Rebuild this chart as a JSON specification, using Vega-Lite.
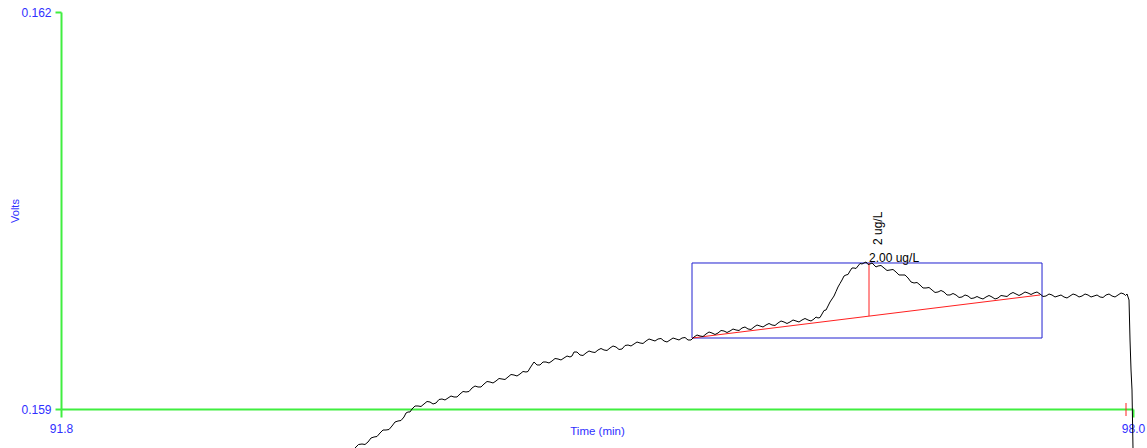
{
  "$schema": "https://vega.github.io/schema/vega-lite/v6.json",
  "autosize": {"type": "none"},
  "width": 1072,
  "height": 397,
  "padding": {"left": 61, "top": 12, "right": 14, "bottom": 39},
  "background": "white",
  "config": {
    "view": {"stroke": null},
    "font": "Liberation Sans",
    "axis": {"grid": false, "labelFont": "Liberation Sans", "titleFont": "Liberation Sans", "titleFontWeight": "normal", "domainColor": "#40ee40", "domainWidth": 2, "tickColor": "#40ee40", "tickWidth": 2, "labelFlush": false}
  },
  "datasets": {
    "trace": [
      {"t": 93.5004, "v": 0.1587053}, {"t": 93.5207, "v": 0.1587317}, {"t": 93.5409, "v": 0.1587355}, {"t": 93.5583, "v": 0.1587318},
      {"t": 93.5756, "v": 0.1587506}, {"t": 93.593, "v": 0.1587808}, {"t": 93.6103, "v": 0.1587884}, {"t": 93.6277, "v": 0.1587922},
      {"t": 93.645, "v": 0.1588186}, {"t": 93.6624, "v": 0.1588413}, {"t": 93.6797, "v": 0.1588413}, {"t": 93.6971, "v": 0.1588451},
      {"t": 93.7144, "v": 0.1588715}, {"t": 93.7318, "v": 0.1589017}, {"t": 93.7491, "v": 0.1589093}, {"t": 93.7665, "v": 0.1589131},
      {"t": 93.7838, "v": 0.1589395}, {"t": 93.7954, "v": 0.1589697}, {"t": 93.8069, "v": 0.1589773}, {"t": 93.8185, "v": 0.1589774},
      {"t": 93.8301, "v": 0.159}, {"t": 93.8475, "v": 0.1590227}, {"t": 93.8648, "v": 0.1590227}, {"t": 93.8822, "v": 0.159019},
      {"t": 93.8995, "v": 0.1590378}, {"t": 93.9169, "v": 0.1590567}, {"t": 93.9342, "v": 0.1590529}, {"t": 93.9516, "v": 0.1590378},
      {"t": 93.9689, "v": 0.1590453}, {"t": 93.9863, "v": 0.1590718}, {"t": 94.0036, "v": 0.1590756}, {"t": 94.021, "v": 0.1590681},
      {"t": 94.0383, "v": 0.1590831}, {"t": 94.0557, "v": 0.1590982}, {"t": 94.073, "v": 0.1590907}, {"t": 94.0904, "v": 0.1590908},
      {"t": 94.1077, "v": 0.1591134}, {"t": 94.1251, "v": 0.1591323}, {"t": 94.1424, "v": 0.1591285}, {"t": 94.1598, "v": 0.1591323},
      {"t": 94.1771, "v": 0.1591587}, {"t": 94.1945, "v": 0.1591738}, {"t": 94.2118, "v": 0.1591663}, {"t": 94.2292, "v": 0.1591663},
      {"t": 94.2465, "v": 0.1591889}, {"t": 94.2639, "v": 0.1592078}, {"t": 94.2812, "v": 0.159204}, {"t": 94.2986, "v": 0.1591965},
      {"t": 94.3159, "v": 0.1592116}, {"t": 94.3333, "v": 0.1592305}, {"t": 94.3506, "v": 0.1592267}, {"t": 94.368, "v": 0.159223},
      {"t": 94.3853, "v": 0.1592418}, {"t": 94.4027, "v": 0.1592607}, {"t": 94.42, "v": 0.1592569}, {"t": 94.4374, "v": 0.1592494},
      {"t": 94.4547, "v": 0.1592645}, {"t": 94.4721, "v": 0.1592834}, {"t": 94.4894, "v": 0.1592796}, {"t": 94.501, "v": 0.1592834},
      {"t": 94.5126, "v": 0.1593098}, {"t": 94.5242, "v": 0.1593325}, {"t": 94.5357, "v": 0.1593552}, {"t": 94.5531, "v": 0.1593326},
      {"t": 94.5704, "v": 0.1593325}, {"t": 94.5878, "v": 0.1593552}, {"t": 94.6051, "v": 0.1593552}, {"t": 94.6225, "v": 0.1593477},
      {"t": 94.6398, "v": 0.1593627}, {"t": 94.6572, "v": 0.1593816}, {"t": 94.6745, "v": 0.1593779}, {"t": 94.6919, "v": 0.1593704},
      {"t": 94.7092, "v": 0.1593854}, {"t": 94.7266, "v": 0.1594005}, {"t": 94.7439, "v": 0.159393}, {"t": 94.7555, "v": 0.1594006},
      {"t": 94.767, "v": 0.1594307}, {"t": 94.7844, "v": 0.1594307}, {"t": 94.8017, "v": 0.1594081}, {"t": 94.8191, "v": 0.1594044},
      {"t": 94.8364, "v": 0.1594232}, {"t": 94.8538, "v": 0.1594383}, {"t": 94.8711, "v": 0.1594307}, {"t": 94.8885, "v": 0.159427},
      {"t": 94.9058, "v": 0.1594459}, {"t": 94.9232, "v": 0.1594572}, {"t": 94.9405, "v": 0.1594459}, {"t": 94.9579, "v": 0.1594422},
      {"t": 94.9752, "v": 0.159461}, {"t": 94.9926, "v": 0.1594761}, {"t": 95.01, "v": 0.1594685}, {"t": 95.0274, "v": 0.1594497},
      {"t": 95.0447, "v": 0.1594534}, {"t": 95.0621, "v": 0.1594798}, {"t": 95.0794, "v": 0.1594836}, {"t": 95.0968, "v": 0.1594761},
      {"t": 95.1141, "v": 0.1594912}, {"t": 95.1315, "v": 0.1595063}, {"t": 95.1488, "v": 0.1594988}, {"t": 95.1662, "v": 0.1594951},
      {"t": 95.1835, "v": 0.1595139}, {"t": 95.2009, "v": 0.159529}, {"t": 95.2182, "v": 0.1595214}, {"t": 95.2356, "v": 0.1595139},
      {"t": 95.2529, "v": 0.159529}, {"t": 95.2703, "v": 0.1595328}, {"t": 95.2876, "v": 0.1595139}, {"t": 95.305, "v": 0.1595064},
      {"t": 95.3223, "v": 0.1595214}, {"t": 95.3397, "v": 0.1595365}, {"t": 95.357, "v": 0.159529}, {"t": 95.3744, "v": 0.1595215},
      {"t": 95.3917, "v": 0.1595365}, {"t": 95.4091, "v": 0.1595403}, {"t": 95.4264, "v": 0.1595214}, {"t": 95.4438, "v": 0.1595215},
      {"t": 95.4611, "v": 0.1595441}, {"t": 95.4785, "v": 0.1595592}, {"t": 95.4958, "v": 0.1595517}, {"t": 95.5132, "v": 0.159548},
      {"t": 95.5305, "v": 0.1595668}, {"t": 95.5479, "v": 0.1595819}, {"t": 95.5652, "v": 0.1595743}, {"t": 95.5826, "v": 0.159563},
      {"t": 95.5999, "v": 0.1595743}, {"t": 95.6173, "v": 0.1595932}, {"t": 95.6346, "v": 0.1595894}, {"t": 95.652, "v": 0.1595781},
      {"t": 95.6693, "v": 0.1595894}, {"t": 95.6867, "v": 0.1596045}, {"t": 95.704, "v": 0.159597}, {"t": 95.7214, "v": 0.1595933},
      {"t": 95.7387, "v": 0.1596121}, {"t": 95.7561, "v": 0.1596197}, {"t": 95.7734, "v": 0.1596046}, {"t": 95.7908, "v": 0.1596009},
      {"t": 95.8081, "v": 0.1596197}, {"t": 95.8255, "v": 0.1596348}, {"t": 95.8428, "v": 0.1596272}, {"t": 95.8602, "v": 0.1596197},
      {"t": 95.8775, "v": 0.1596348}, {"t": 95.8949, "v": 0.1596461}, {"t": 95.9122, "v": 0.1596348}, {"t": 95.9296, "v": 0.1596311},
      {"t": 95.9469, "v": 0.1596499}, {"t": 95.9643, "v": 0.159665}, {"t": 95.9816, "v": 0.1596575}, {"t": 95.999, "v": 0.1596462},
      {"t": 96.0163, "v": 0.1596575}, {"t": 96.0337, "v": 0.1596726}, {"t": 96.051, "v": 0.159665}, {"t": 96.0684, "v": 0.1596575},
      {"t": 96.0857, "v": 0.1596726}, {"t": 96.1031, "v": 0.1596839}, {"t": 96.1204, "v": 0.1596726}, {"t": 96.1378, "v": 0.1596651},
      {"t": 96.1551, "v": 0.1596801}, {"t": 96.1667, "v": 0.1596952}, {"t": 96.1783, "v": 0.1596877}, {"t": 96.1899, "v": 0.1596915},
      {"t": 96.2014, "v": 0.1597179}, {"t": 96.213, "v": 0.1597443}, {"t": 96.2245, "v": 0.1597481}, {"t": 96.2361, "v": 0.1597784},
      {"t": 96.2477, "v": 0.1598086}, {"t": 96.2593, "v": 0.1598313}, {"t": 96.2708, "v": 0.1598539}, {"t": 96.2824, "v": 0.159888},
      {"t": 96.2939, "v": 0.159922}, {"t": 96.3055, "v": 0.1599485}, {"t": 96.3171, "v": 0.1599749}, {"t": 96.3287, "v": 0.1600051},
      {"t": 96.3402, "v": 0.1600126}, {"t": 96.3518, "v": 0.1600165}, {"t": 96.3633, "v": 0.1600429}, {"t": 96.3749, "v": 0.1600655},
      {"t": 96.3865, "v": 0.1600655}, {"t": 96.3981, "v": 0.1600618}, {"t": 96.4096, "v": 0.1600807}, {"t": 96.4212, "v": 0.1600996},
      {"t": 96.4327, "v": 0.1600958}, {"t": 96.4443, "v": 0.1601034}, {"t": 96.4559, "v": 0.1601109}, {"t": 96.4675, "v": 0.1600921},
      {"t": 96.479, "v": 0.1600958}, {"t": 96.4906, "v": 0.1601033}, {"t": 96.5021, "v": 0.1600882}, {"t": 96.5137, "v": 0.1600732},
      {"t": 96.5253, "v": 0.1600807}, {"t": 96.5427, "v": 0.1600844}, {"t": 96.56, "v": 0.1600655}, {"t": 96.5774, "v": 0.1600467},
      {"t": 96.5947, "v": 0.1600504}, {"t": 96.6121, "v": 0.1600542}, {"t": 96.6294, "v": 0.1600353}, {"t": 96.6468, "v": 0.1600127},
      {"t": 96.6641, "v": 0.1600126}, {"t": 96.6815, "v": 0.1600126}, {"t": 96.6988, "v": 0.15999}, {"t": 96.7162, "v": 0.1599598},
      {"t": 96.7335, "v": 0.1599522}, {"t": 96.7509, "v": 0.159956}, {"t": 96.7682, "v": 0.1599371}, {"t": 96.7856, "v": 0.1599145},
      {"t": 96.8029, "v": 0.1599144}, {"t": 96.8203, "v": 0.1599182}, {"t": 96.8376, "v": 0.1598993}, {"t": 96.855, "v": 0.1598805},
      {"t": 96.8723, "v": 0.1598842}, {"t": 96.8897, "v": 0.1598955}, {"t": 96.907, "v": 0.1598842}, {"t": 96.9244, "v": 0.1598616},
      {"t": 96.9417, "v": 0.1598615}, {"t": 96.9591, "v": 0.1598728}, {"t": 96.9764, "v": 0.1598615}, {"t": 96.9938, "v": 0.1598427},
      {"t": 97.0111, "v": 0.1598464}, {"t": 97.0285, "v": 0.1598615}, {"t": 97.0458, "v": 0.1598539}, {"t": 97.0632, "v": 0.1598351},
      {"t": 97.0805, "v": 0.1598388}, {"t": 97.0979, "v": 0.1598501}, {"t": 97.1152, "v": 0.1598388}, {"t": 97.1326, "v": 0.1598313},
      {"t": 97.1499, "v": 0.1598464}, {"t": 97.1673, "v": 0.1598577}, {"t": 97.1846, "v": 0.1598464}, {"t": 97.202, "v": 0.1598313},
      {"t": 97.2193, "v": 0.1598388}, {"t": 97.2367, "v": 0.1598577}, {"t": 97.254, "v": 0.1598539}, {"t": 97.2714, "v": 0.1598502},
      {"t": 97.2887, "v": 0.1598691}, {"t": 97.3061, "v": 0.1598804}, {"t": 97.3234, "v": 0.1598691}, {"t": 97.3408, "v": 0.1598578},
      {"t": 97.3581, "v": 0.1598691}, {"t": 97.3755, "v": 0.1598842}, {"t": 97.3928, "v": 0.1598766}, {"t": 97.4102, "v": 0.1598653},
      {"t": 97.4275, "v": 0.1598766}, {"t": 97.4449, "v": 0.1598842}, {"t": 97.4622, "v": 0.1598691}, {"t": 97.4796, "v": 0.1598502},
      {"t": 97.4969, "v": 0.1598539}, {"t": 97.5143, "v": 0.159869}, {"t": 97.5316, "v": 0.1598615}, {"t": 97.549, "v": 0.1598464},
      {"t": 97.5663, "v": 0.1598539}, {"t": 97.5837, "v": 0.1598615}, {"t": 97.601, "v": 0.1598464}, {"t": 97.6184, "v": 0.1598389},
      {"t": 97.6357, "v": 0.1598539}, {"t": 97.6531, "v": 0.159869}, {"t": 97.6704, "v": 0.1598615}, {"t": 97.6878, "v": 0.1598464},
      {"t": 97.7052, "v": 0.1598539}, {"t": 97.7226, "v": 0.159869}, {"t": 97.7399, "v": 0.1598615}, {"t": 97.7573, "v": 0.1598464},
      {"t": 97.7746, "v": 0.1598539}, {"t": 97.792, "v": 0.1598615}, {"t": 97.8093, "v": 0.1598464}, {"t": 97.8267, "v": 0.1598427},
      {"t": 97.844, "v": 0.1598615}, {"t": 97.8614, "v": 0.159869}, {"t": 97.8787, "v": 0.1598539}, {"t": 97.8961, "v": 0.1598464},
      {"t": 97.9134, "v": 0.1598615}, {"t": 97.9308, "v": 0.1598766}, {"t": 97.9481, "v": 0.1598691}, {"t": 97.9568, "v": 0.1598578},
      {"t": 97.9654, "v": 0.1598691}, {"t": 97.977, "v": 0.1598237}, {"t": 97.9828, "v": 0.1595214}, {"t": 97.9886, "v": 0.1592947},
      {"t": 97.9943, "v": 0.1591436}, {"t": 98.0001, "v": 0.1586902}
    ],
    "box": [{"t": 95.4495, "t2": 97.4738, "v": 0.1595365, "v2": 0.1601033}],
    "baseline": [{"t": 95.4495, "t2": 97.4622, "v": 0.1595365, "v2": 0.1598615}],
    "peakline": [{"t": 96.4732, "v": 0.1597028, "v2": 0.1601033}],
    "endtick": [{"t": 97.9596, "v": 0.1589471, "v2": 0.1590453}],
    "amount": [{"t": 96.4732, "v": 0.1601126, "label": "2.00 ug/L"}],
    "name": [{"t": 96.5253, "v": 0.1602393, "label": "2 ug/L"}]
  },
  "encoding": {
    "x": {
      "field": "t", "type": "quantitative",
      "scale": {"domain": [91.8, 98.0], "nice": false, "zero": false},
      "axis": {
        "values": [91.8, 98.0], "format": ".1f", "title": "Time (min)", "labelFlush": false,
        "domainColor": "#40ee40", "domainWidth": 2, "tickColor": "#40ee40", "tickWidth": 2, "tickSize": 8,
        "labelColor": "#3030ff", "labelFontSize": 12, "labelPadding": 6,
        "titleColor": "#3030ff", "titleFontSize": 11.5, "titleY": 16, "titleBaseline": "top"
      }
    },
    "y": {
      "field": "v", "type": "quantitative",
      "scale": {"domain": [0.159, 0.162], "nice": false, "zero": false},
      "axis": {
        "values": [0.159, 0.162], "format": ".3f", "title": "Volts", "labelFlush": false,
        "domainColor": "#40ee40", "domainWidth": 2, "tickColor": "#40ee40", "tickWidth": 2, "tickSize": 6,
        "labelColor": "#3030ff", "labelFontSize": 12, "labelPadding": 4,
        "titleColor": "#3030ff", "titleFontSize": 11, "titlePadding": 0
      }
    }
  },
  "layer": [
    {"data": {"name": "box"}, "mark": {"type": "rect", "filled": false, "stroke": "#2020d0", "strokeWidth": 1}, "encoding": {"x2": {"field": "t2"}, "y2": {"field": "v2"}}},
    {"data": {"name": "baseline"}, "mark": {"type": "rule", "color": "#ff2020", "strokeWidth": 1}, "encoding": {"x2": {"field": "t2"}, "y2": {"field": "v2"}}},
    {"data": {"name": "peakline"}, "mark": {"type": "rule", "color": "#ff2020", "strokeWidth": 1}, "encoding": {"y2": {"field": "v2"}}},
    {"data": {"name": "endtick"}, "mark": {"type": "rule", "color": "#ff2020", "strokeWidth": 1}, "encoding": {"y2": {"field": "v2"}}},
    {"data": {"name": "trace"}, "mark": {"type": "line", "color": "#000000", "strokeWidth": 1, "interpolate": "linear"}, "encoding": {}},
    {"data": {"name": "amount"}, "mark": {"type": "text", "align": "left", "baseline": "alphabetic", "fontSize": 12, "color": "#000000", "font": "Liberation Sans"}, "encoding": {"text": {"field": "label"}}},
    {"data": {"name": "name"}, "mark": {"type": "text", "align": "left", "baseline": "middle", "angle": 270, "fontSize": 12, "color": "#000000", "font": "Liberation Sans"}, "encoding": {"text": {"field": "label"}}}
  ]
}
